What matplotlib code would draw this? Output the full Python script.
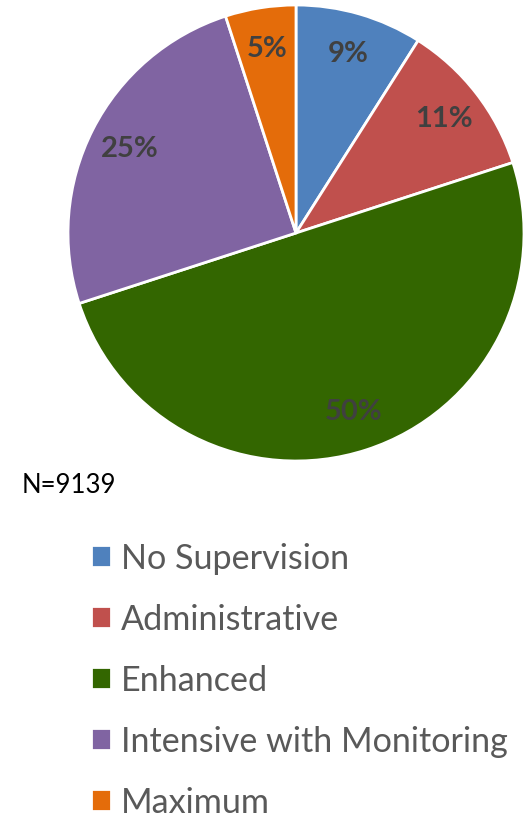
import matplotlib.pyplot as plt

labels = ['No Supervision', 'Administrative', 'Enhanced', 'Intensive with Monitoring', 'Maximum']
values = [9, 11, 50, 25, 5]
colors = ['#4F81BD', '#C0504D', '#336600', '#8064A2', '#E46C0A']

plt.rcParams['font.family'] = ['Lato', 'DejaVu Sans']

fig = plt.figure(figsize=(5.28, 8.2), dpi=100)
ax = fig.add_axes([68 / 528, 1 - 462 / 820, 456 / 528, 456 / 820])

wedges, _, autotexts = ax.pie(values, colors=colors, startangle=90, counterclock=False,
                              autopct='%1.0f%%', pctdistance=0.82,
                              wedgeprops=dict(edgecolor='white', linewidth=2))
for t in autotexts:
    t.set_color('#404040')
    t.set_fontsize(21)
    t.set_fontweight('bold')
ax.set_xlim(-1, 1)
ax.set_ylim(-1, 1)
ax.set_aspect('equal')

fig.text(22 / 528, 1 - 486 / 820, 'N=9139', fontsize=18.5, color='black', va='center')

fig.legend(wedges, labels, loc='upper left', bbox_to_anchor=(91 / 528, 1 - 543 / 820),
           frameon=False, fontsize=24.6, labelcolor='#595959',
           handlelength=0.59, handleheight=0.59, handletextpad=0.28, labelspacing=0.85,
           borderpad=0, borderaxespad=0)

fig.savefig('out.png', dpi=100)
